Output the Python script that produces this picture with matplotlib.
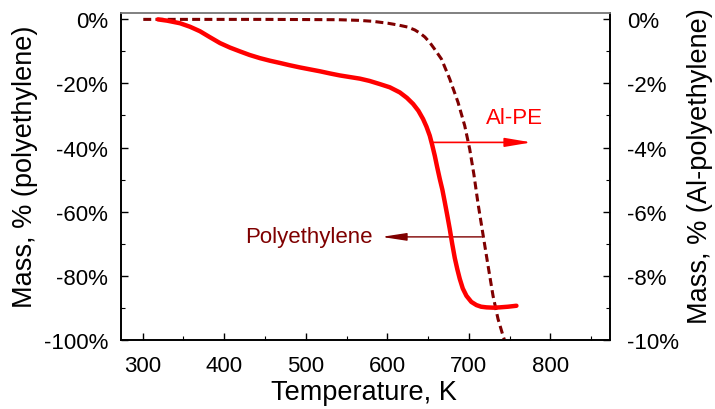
import matplotlib
matplotlib.use("Agg")
import matplotlib.pyplot as plt
from matplotlib.ticker import MultipleLocator, FuncFormatter

plt.rcParams['font.family'] = ['Liberation Sans', 'DejaVu Sans']

# Al-PE mass loss (solid, right axis, %)
t_alpe = [318.7, 330, 345.7, 358, 370.2, 382, 394.8, 407, 419.3, 431, 443.8, 456, 468.3,
          480, 492.8, 505, 517.3, 530, 541.8, 554, 566.3, 578, 590.8, 603, 615.3, 624,
          631.6, 638, 643.8, 648, 652, 655, 658.2, 661, 664.3, 667.5, 670.4, 673.5,
          676.5, 679.5, 682.7, 685.8, 688.8, 692.5, 697, 703, 709.3, 715, 721.5, 730,
          737.8, 748, 758.3]
m_alpe = [0.0, -0.04, -0.12, -0.23, -0.37, -0.55, -0.74, -0.88, -1.00, -1.11, -1.21, -1.29, -1.36,
          -1.43, -1.50, -1.56, -1.62, -1.69, -1.75, -1.80, -1.85, -1.92, -2.02, -2.12, -2.28, -2.45,
          -2.64, -2.85, -3.11, -3.35, -3.63, -3.92, -4.26, -4.60, -4.98, -5.32, -5.70, -6.12,
          -6.54, -7.00, -7.45, -7.80, -8.10, -8.40, -8.63, -8.82, -8.92, -8.97, -8.99, -9.00,
          -8.99, -8.97, -8.94]

# Polyethylene mass loss (dashed, left axis, %)
t_pe = [300.7, 350, 400, 450, 500, 540, 565, 582, 600.6, 614, 625, 633.7, 640, 646, 652,
        658, 666.4, 676.5, 686.7, 694.9, 701, 706.2, 711.2, 717.4, 723.5, 729.6, 735.7,
        741.9, 743.5]
m_pe = [0.0, 0.0, 0.0, 0.0, -0.05, -0.1, -0.3, -0.6, -1.2, -1.8, -2.4, -3.3, -4.3, -5.5, -7.2,
        -9.3, -12.4, -18.6, -25.9, -33.2, -40.5, -48.5, -57.5, -67.3, -76.9, -86.3, -93.5,
        -98.8, -100.0]

x_ticks = [300, 400, 500, 600, 700, 800]
left_ticks = [0, -20, -40, -60, -80, -100]
right_ticks = [0, -2, -4, -6, -8, -10]

red = '#FF0000'
dark_red = '#7F0000'

fig = plt.figure(figsize=(7.15, 4.10), dpi=100)
ax = fig.add_axes([0.1688, 0.169, 0.6843, 0.7969])
ax2 = ax.twinx()

ax.plot(t_pe, m_pe, color=dark_red, lw=2.2, ls=(0, (2.6, 1.4)), zorder=3)
ax2.plot(t_alpe, m_alpe, color=red, lw=3.2, solid_capstyle='round',
         solid_joinstyle='round', zorder=3)

ax.set_xlim(273, 873)
ax.set_ylim(-100, 2)
ax2.set_ylim(-10, 0.2)

ax.set_xticks(x_ticks)
ax.xaxis.set_minor_locator(MultipleLocator(50))
ax.set_yticks(left_ticks)
ax.yaxis.set_minor_locator(MultipleLocator(10))
ax2.set_yticks(right_ticks)
ax2.yaxis.set_minor_locator(MultipleLocator(1))

pct = FuncFormatter(lambda v, p: f"{v:.0f}%")
ax.yaxis.set_major_formatter(pct)
ax2.yaxis.set_major_formatter(pct)

for a in (ax, ax2):
    a.tick_params(which='both', direction='in', labelsize=16, top=False)
    a.tick_params(which='major', length=5, width=1.0)
    a.tick_params(which='minor', length=3, width=0.8)
ax.tick_params(axis='y', pad=9)
ax.tick_params(axis='x', pad=11)
ax2.tick_params(axis='y', pad=12, left=False)
ax.tick_params(axis='y', which='both', right=False)

for a in (ax, ax2):
    for s in ('left', 'right', 'bottom'):
        a.spines[s].set_color('black')
        a.spines[s].set_linewidth(1.2)
    a.spines['top'].set_color('#808080')
    a.spines['top'].set_linewidth(1.2)

ax.set_xlabel('Temperature, K', fontsize=19.5)
ax.set_ylabel('Mass, % (polyethylene)', fontsize=19.5)
ax2.set_ylabel('Mass, % (Al-polyethylene)', fontsize=19.5, rotation=90)
ax.xaxis.label.set_va('center')
ax.yaxis.label.set_va('center')
ax2.yaxis.label.set_va('center')
ax.xaxis.set_label_coords(0.497, -0.160)
ax.yaxis.set_label_coords(-0.1956, 0.532)
ax2.yaxis.set_label_coords(1.184, 0.535)

# Arrows pointing each curve to its axis
ax.annotate('', xy=(776.7, -38.4), xytext=(655.7, -38.4),
            arrowprops=dict(arrowstyle='-|>,head_length=1.6,head_width=0.27',
                            color=red, lw=1.2, shrinkA=0, shrinkB=0, mutation_scale=10),
            zorder=4)
ax.text(756, -30.5, 'Al-PE', color=red, fontsize=16, ha='center', va='center')

ax.annotate('', xy=(592.9, -67.9), xytext=(715.4, -67.9),
            arrowprops=dict(arrowstyle='-|>,head_length=1.5,head_width=0.23',
                            color=dark_red, lw=1.0, shrinkA=0, shrinkB=0, mutation_scale=10),
            zorder=4)
ax.text(503.7, -67.9, 'Polyethylene', color=dark_red, fontsize=16, ha='center', va='center')

fig.savefig('out.png', dpi=100)
